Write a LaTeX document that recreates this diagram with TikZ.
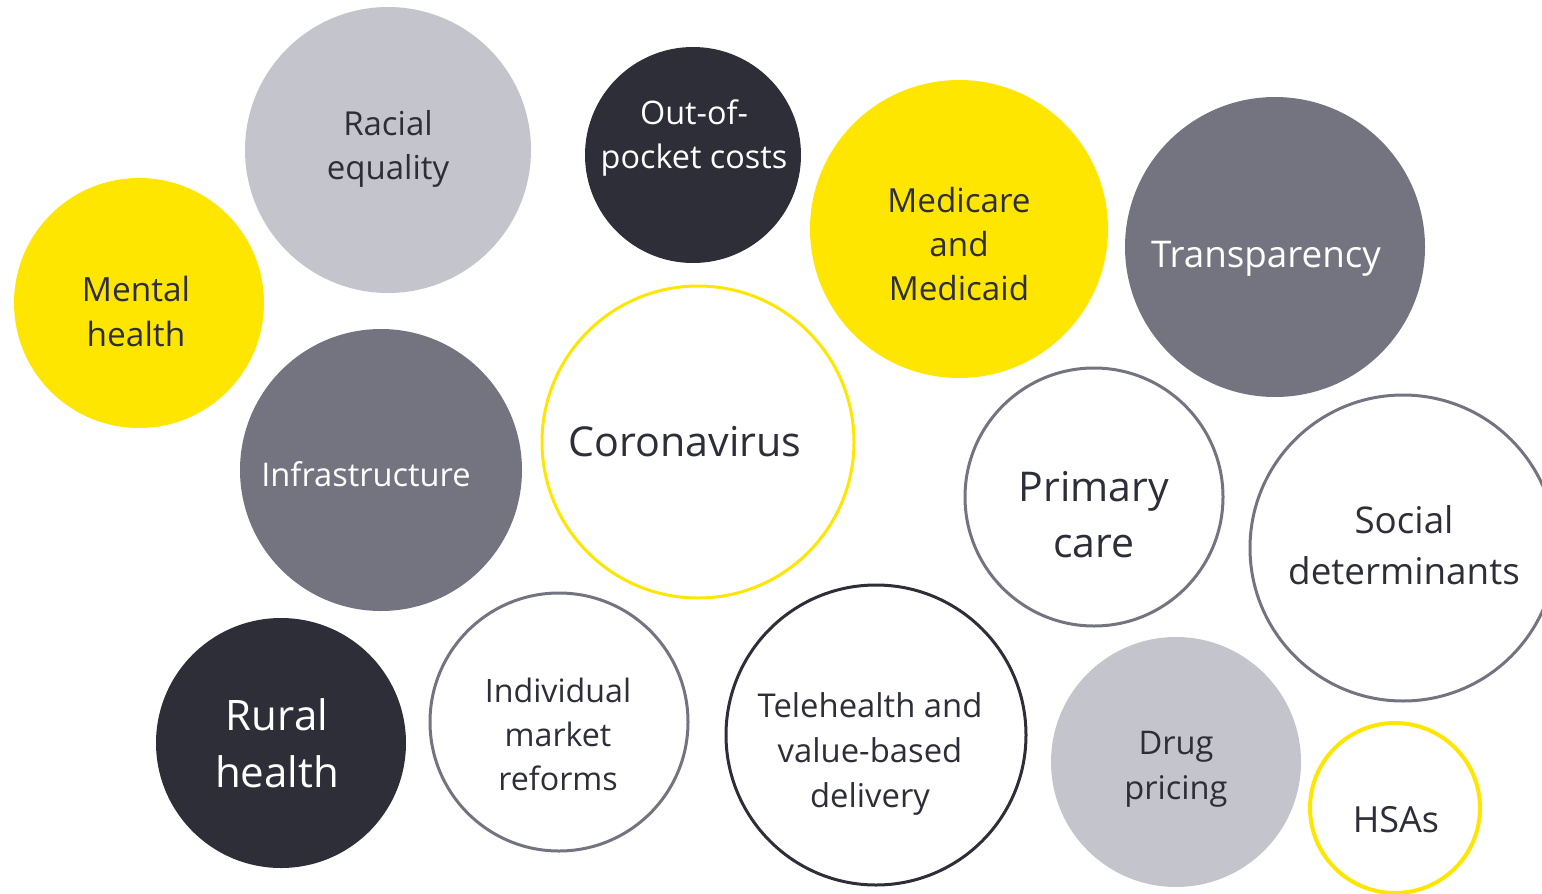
\documentclass[tikz,border=0pt]{standalone}
\usepackage{fontspec}
\setmainfont{Open Sans}
\definecolor{eyyellow}{HTML}{FFE600}
\definecolor{eydark}{HTML}{2E2E38}
\definecolor{eygray}{HTML}{747480}
\definecolor{eylight}{HTML}{C4C4CD}
\tikzset{
  bub/.style={circle, inner sep=0pt},
  lbl/.style={inner sep=0pt, align=center, text=eydark},
  wlbl/.style={lbl, text=white},
  fs/.style 2 args={font=\fontsize{#1}{#2}\selectfont},
  yfill/.style={bub, fill=eyyellow},
  dfill/.style={bub, fill=eydark},
  gfill/.style={bub, fill=eygray},
  lfill/.style={bub, fill=eylight},
  yring/.style={bub, draw=eyyellow, line width=1.5pt, fill=white},
  gring/.style={bub, draw=eygray, line width=1.5pt, fill=white},
  dring/.style={bub, draw=eydark, line width=1.5pt, fill=white},
}
\begin{document}
\begin{tikzpicture}[x=0.5pt,y=-0.5pt]
\useasboundingbox (0,0) rectangle (1542,894);
\clip (0,0) rectangle (1542,894);
% circles
\node[lfill, minimum size=143pt] (racial) at (388,150) {};
\node[dfill, minimum size=108pt] (oop) at (693,155) {};
\node[yfill, minimum size=149pt] (medicare) at (959,229) {};
\node[gfill, minimum size=150pt] (transp) at (1275,247) {};
\node[yfill, minimum size=125pt] (mental) at (139,303) {};
\node[gfill, minimum size=141pt] (infra) at (381,470) {};
\node[yring, minimum size=156pt] (corona) at (698,442) {};
\node[gring, minimum size=129pt] (primary) at (1094,497) {};
\node[gring, minimum size=153pt] (social) at (1403,548) {};
\node[dfill, minimum size=125pt] (rural) at (281,743) {};
\node[gring, minimum size=129pt] (indiv) at (559,722) {};
\node[dring, minimum size=150pt] (tele) at (876,735) {};
\node[lfill, minimum size=125pt] (drug) at (1176,762) {};
\node[yring, line width=2pt, minimum size=85pt] (hsa) at (1395,808) {};
% labels
\node[lbl, fs={16.5}{22}] (racial-t) at ([shift={(0,-1)}]racial.center) {Racial\\equality};
\node[wlbl, fs={16.2}{22}] (oop-t) at ([shift={(1,-17)}]oop.center) {Out-of-\\pocket costs};
\node[lbl, fs={16.6}{22}] (medicare-t) at ([shift={(0,15)}]medicare.center) {Medicare\\and\\Medicaid};
\node[wlbl, fs={18.4}{24}] (transp-t) at ([shift={(-9,12)}]transp.center) {Transparency};
\node[lbl, fs={16.7}{22.5}] (mental-t) at ([shift={(-3,8)}]mental.center) {Mental\\health};
\node[wlbl, fs={16.3}{20}] (infra-t) at ([shift={(-15,4)}]infra.center) {Infrastructure};
\node[lbl, fs={20.6}{28}] (corona-t) at ([shift={(-13,0)}]corona.center) {Coronavirus};
\node[lbl, fs={20.5}{28}] (primary-t) at ([shift={(0,18)}]primary.center) {Primary\\care};
\node[lbl, fs={18.4}{25.5}] (social-t) at ([shift={(1,-3)}]social.center) {Social\\determinants};
\node[wlbl, fs={21}{28.5}] (rural-t) at ([shift={(-4,0)}]rural.center) {Rural\\health};
\node[lbl, fs={16.1}{22}] (indiv-t) at ([shift={(-1,12)}]indiv.center) {Individual\\market\\reforms};
\node[lbl, fs={16.4}{22.5}] (tele-t) at ([shift={(-6,19)}]tele.center) {Telehealth and\\value-based\\delivery};
\node[lbl, fs={16.3}{22.5}] (drug-t) at ([shift={(0,7)}]drug.center) {Drug\\pricing};
\node[lbl, fs={18}{22}] (hsa-t) at ([shift={(1,12)}]hsa.center) {HSAs};
\end{tikzpicture}
\end{document}
